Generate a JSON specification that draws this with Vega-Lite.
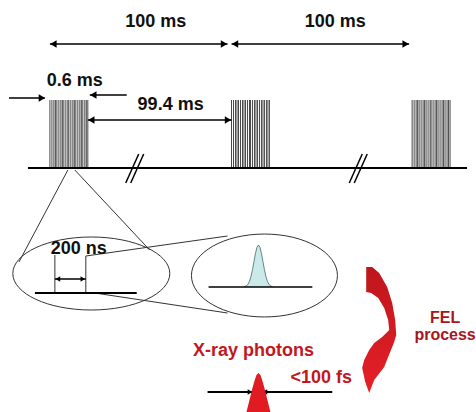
{
  "$schema": "https://vega.github.io/schema/vega-lite/v6.json",
  "width": 476,
  "height": 412,
  "autosize": {"type": "fit", "contains": "padding"},
  "padding": 0,
  "background": "white",
  "config": {"view": {"stroke": null}},
  "datasets": {
    "thin": [
      {"x": 68, "y": 170, "x2": 19, "y2": 262},
      {"x": 75, "y": 170, "x2": 150, "y2": 250},
      {"x": 86, "y": 256, "x2": 228, "y2": 236},
      {"x": 95, "y": 293, "x2": 228, "y2": 313},
      {"x": 55, "y": 255, "x2": 55, "y2": 293},
      {"x": 86, "y": 256, "x2": 86, "y2": 293}
    ],
    "thick": [
      {"x": 28, "y": 168, "x2": 468, "y2": 168},
      {"x": 35, "y": 293, "x2": 137, "y2": 293},
      {"x": 208, "y": 392, "x2": 253, "y2": 392},
      {"x": 263, "y": 392, "x2": 333, "y2": 392}
    ],
    "arrows": [
      {"x": 50, "y": 44, "x2": 228, "y2": 44},
      {"x": 232, "y": 44, "x2": 410, "y2": 44},
      {"x": 9, "y": 98, "x2": 45, "y2": 98},
      {"x": 90, "y": 95, "x2": 127, "y2": 95},
      {"x": 88, "y": 120, "x2": 232, "y2": 120},
      {"x": 55, "y": 279, "x2": 86, "y2": 279}
    ],
    "breaks": [
      {"x": 126, "y": 183, "x2": 139, "y2": 154},
      {"x": 131, "y": 183, "x2": 144, "y2": 154},
      {"x": 350, "y": 183, "x2": 363, "y2": 154},
      {"x": 355, "y": 183, "x2": 368, "y2": 154}
    ],
    "heads": [
      {"x": 53.5, "y": 44, "dir": "left"},
      {"x": 224.5, "y": 44, "dir": "right"},
      {"x": 235.5, "y": 44, "dir": "left"},
      {"x": 406.5, "y": 44, "dir": "right"},
      {"x": 42, "y": 98, "dir": "right"},
      {"x": 93.5, "y": 95, "dir": "left"},
      {"x": 91.5, "y": 120, "dir": "left"},
      {"x": 228.5, "y": 120, "dir": "right"}
    ],
    "smallheads": [
      {"x": 58, "y": 279, "dir": "left"},
      {"x": 83, "y": 279, "dir": "right"},
      {"x": 250.5, "y": 392, "dir": "right"},
      {"x": 265.5, "y": 392, "dir": "left"}
    ],
    "pulses": [
      {"x": 50, "y": 100, "y2": 168}, {"x": 52, "y": 100, "y2": 168}, {"x": 54, "y": 100, "y2": 168}, {"x": 55.5, "y": 100, "y2": 168},
      {"x": 57, "y": 100, "y2": 168}, {"x": 59, "y": 100, "y2": 168}, {"x": 61, "y": 100, "y2": 168}, {"x": 62.5, "y": 100, "y2": 168},
      {"x": 64, "y": 100, "y2": 168}, {"x": 66, "y": 100, "y2": 168}, {"x": 68, "y": 100, "y2": 168}, {"x": 69, "y": 100, "y2": 168},
      {"x": 71, "y": 100, "y2": 168}, {"x": 73, "y": 100, "y2": 168}, {"x": 74.5, "y": 100, "y2": 168}, {"x": 76, "y": 100, "y2": 168},
      {"x": 78, "y": 100, "y2": 168}, {"x": 80, "y": 100, "y2": 168}, {"x": 81.5, "y": 100, "y2": 168}, {"x": 83, "y": 100, "y2": 168},
      {"x": 85, "y": 100, "y2": 168}, {"x": 86.5, "y": 100, "y2": 168}, {"x": 88, "y": 100, "y2": 168},
      {"x": 232, "y": 100, "y2": 168}, {"x": 234, "y": 100, "y2": 168}, {"x": 236, "y": 100, "y2": 168}, {"x": 237.5, "y": 100, "y2": 168},
      {"x": 239, "y": 100, "y2": 168}, {"x": 241, "y": 100, "y2": 168}, {"x": 243, "y": 100, "y2": 168}, {"x": 244.5, "y": 100, "y2": 168},
      {"x": 246, "y": 100, "y2": 168}, {"x": 248, "y": 100, "y2": 168}, {"x": 250, "y": 100, "y2": 168}, {"x": 251, "y": 100, "y2": 168},
      {"x": 253, "y": 100, "y2": 168}, {"x": 255, "y": 100, "y2": 168}, {"x": 256.5, "y": 100, "y2": 168}, {"x": 258, "y": 100, "y2": 168},
      {"x": 260, "y": 100, "y2": 168}, {"x": 262, "y": 100, "y2": 168}, {"x": 263.5, "y": 100, "y2": 168}, {"x": 265, "y": 100, "y2": 168},
      {"x": 267, "y": 100, "y2": 168}, {"x": 268.5, "y": 100, "y2": 168}, {"x": 270, "y": 100, "y2": 168},
      {"x": 413, "y": 100, "y2": 168}, {"x": 415, "y": 100, "y2": 168}, {"x": 417, "y": 100, "y2": 168}, {"x": 418.5, "y": 100, "y2": 168},
      {"x": 420, "y": 100, "y2": 168}, {"x": 422, "y": 100, "y2": 168}, {"x": 424, "y": 100, "y2": 168}, {"x": 425.5, "y": 100, "y2": 168},
      {"x": 427, "y": 100, "y2": 168}, {"x": 429, "y": 100, "y2": 168}, {"x": 431, "y": 100, "y2": 168}, {"x": 432, "y": 100, "y2": 168},
      {"x": 434, "y": 100, "y2": 168}, {"x": 436, "y": 100, "y2": 168}, {"x": 437.5, "y": 100, "y2": 168}, {"x": 439, "y": 100, "y2": 168},
      {"x": 441, "y": 100, "y2": 168}, {"x": 443, "y": 100, "y2": 168}, {"x": 444.5, "y": 100, "y2": 168}, {"x": 446, "y": 100, "y2": 168},
      {"x": 448, "y": 100, "y2": 168}, {"x": 449.5, "y": 100, "y2": 168}, {"x": 451, "y": 100, "y2": 168}
    ],
    "gauss": [
      {"x": 245, "y": 286.7}, {"x": 247, "y": 285.8}, {"x": 248.5, "y": 284.2}, {"x": 250, "y": 281.3},
      {"x": 251.5, "y": 276.5}, {"x": 253, "y": 269.7}, {"x": 254.5, "y": 261.5}, {"x": 256, "y": 253.4},
      {"x": 257.5, "y": 247.3}, {"x": 259, "y": 245}, {"x": 260.5, "y": 247.3}, {"x": 262, "y": 253.4},
      {"x": 263.5, "y": 261.5}, {"x": 265, "y": 269.7}, {"x": 266.5, "y": 276.5}, {"x": 268, "y": 281.3},
      {"x": 269.5, "y": 284.2}, {"x": 271, "y": 285.8}, {"x": 273, "y": 286.7}
    ],
    "spike": [
      {"x": 247, "y": 412}, {"x": 249, "y": 404}, {"x": 251, "y": 396}, {"x": 253, "y": 388},
      {"x": 255, "y": 381}, {"x": 257, "y": 375}, {"x": 259, "y": 373}, {"x": 261, "y": 375},
      {"x": 263, "y": 381}, {"x": 265, "y": 388}, {"x": 267, "y": 396}, {"x": 269, "y": 404}, {"x": 271, "y": 412}
    ],
    "ellipses": [
      {"name": "left", "x": 91.5, "y": 273.5},
      {"name": "right", "x": 265, "y": 275.5}
    ],
    "felarrow": [{"x": 380, "y": 330}],
    "labels": [
      {"text": "100 ms", "x": 156, "y": 27, "grp": "black"},
      {"text": "100 ms", "x": 336, "y": 27, "grp": "black"},
      {"text": "0.6 ms", "x": 75, "y": 86, "grp": "black"},
      {"text": "99.4 ms", "x": 171, "y": 110, "grp": "black"},
      {"text": "200 ns", "x": 79, "y": 254, "grp": "black"},
      {"text": "X-ray photons", "x": 254, "y": 356, "grp": "red"},
      {"text": "<100 fs", "x": 322, "y": 383, "grp": "red"}
    ],
    "fel": [
      {"text": "FEL", "x": 446, "y": 323},
      {"text": "process", "x": 446, "y": 340}
    ]
  },
  "encoding": {
    "x": {"field": "x", "type": "quantitative", "scale": {"domain": [0, 476], "nice": false, "zero": false}, "axis": null},
    "y": {"field": "y", "type": "quantitative", "scale": {"domain": [0, 412], "nice": false, "zero": false, "reverse": true}, "axis": null}
  },
  "layer": [
    {
      "data": {"name": "ellipses"},
      "transform": [{"filter": "datum.name == 'left'"}],
      "mark": {"type": "point", "filled": false, "stroke": "#333", "strokeWidth": 1, "opacity": 1, "size": 24649,
               "shape": "M-1,0A1,0.465,0,0,1,1,0A1,0.465,0,0,1,-1,0Z"},
      "encoding": {}
    },
    {
      "data": {"name": "ellipses"},
      "transform": [{"filter": "datum.name == 'right'"}],
      "mark": {"type": "point", "filled": false, "stroke": "#333", "strokeWidth": 1, "opacity": 1, "size": 21316,
               "shape": "M-1,0A1,0.568,0,0,1,1,0A1,0.568,0,0,1,-1,0Z"},
      "encoding": {}
    },
    {
      "data": {"name": "thin"},
      "mark": {"type": "rule", "stroke": "#333", "strokeWidth": 1},
      "encoding": {"x2": {"field": "x2"}, "y2": {"field": "y2"}}
    },
    {
      "data": {"name": "pulses"},
      "mark": {"type": "rule", "stroke": "#333", "strokeWidth": 0.9},
      "encoding": {"y2": {"field": "y2"}}
    },
    {
      "data": {"name": "gauss"},
      "mark": {"type": "area", "color": "#b5dfe0", "line": {"color": "#3b6b6b", "strokeWidth": 0.8}},
      "encoding": {"y2": {"datum": 287}}
    },
    {
      "data": {"name": "thick"},
      "mark": {"type": "rule", "stroke": "#000", "strokeWidth": 2},
      "encoding": {"x2": {"field": "x2"}, "y2": {"field": "y2"}}
    },
    {
      "data": {"name": "thick"},
      "transform": [{"filter": "datum.y == 293"}],
      "mark": {"type": "rule", "stroke": "#000", "strokeWidth": 1.5},
      "encoding": {"x": {"datum": 209}, "x2": {"datum": 313}, "y": {"datum": 287}}
    },
    {
      "data": {"name": "arrows"},
      "mark": {"type": "rule", "stroke": "#000", "strokeWidth": 1.5},
      "encoding": {"x2": {"field": "x2"}, "y2": {"field": "y2"}}
    },
    {
      "data": {"name": "breaks"},
      "mark": {"type": "rule", "stroke": "#000", "strokeWidth": 1.5},
      "encoding": {"x2": {"field": "x2"}, "y2": {"field": "y2"}}
    },
    {
      "data": {"name": "heads"},
      "mark": {"type": "point", "filled": true, "color": "#000", "opacity": 1, "size": 55},
      "encoding": {
        "shape": {"field": "dir", "type": "nominal", "scale": {"domain": ["left", "right"], "range": ["triangle-left", "triangle-right"]}, "legend": null}
      }
    },
    {
      "data": {"name": "smallheads"},
      "mark": {"type": "point", "filled": true, "color": "#000", "opacity": 1, "size": 28},
      "encoding": {
        "shape": {"field": "dir", "type": "nominal", "scale": {"domain": ["left", "right"], "range": ["triangle-left", "triangle-right"]}, "legend": null}
      }
    },
    {
      "data": {"name": "spike"},
      "mark": {"type": "area", "color": "#e01b22"},
      "encoding": {"y2": {"datum": 412}}
    },
    {
      "data": {"name": "felarrow"},
      "mark": {"type": "point", "filled": true, "opacity": 1, "strokeWidth": 0, "size": 16900,
               "fill": {"gradient": "linear", "x1": 0, "y1": 0, "x2": 0, "y2": 1,
                        "stops": [{"offset": 0, "color": "#bd161c"}, {"offset": 1, "color": "#e62027"}]},
               "shape": "M-0.2,-0.969L-0.108,-0.969L0,-0.877L0.123,-0.662L0.2,-0.415L0.246,-0.154L0.262,0.077L0.231,0.185L0.2,0.262L0.138,0.415L0.077,0.569L-0.077,0.769L-0.154,0.969L-0.215,0.8L-0.262,0.585L-0.231,0.462L-0.154,0.308L-0.077,0.2L0.046,0.108L0.154,0L0.138,-0.154L0.077,-0.338L-0.015,-0.492L-0.123,-0.569L-0.2,-0.585Z"},
      "encoding": {}
    },
    {
      "data": {"name": "labels"},
      "mark": {"type": "text", "font": "Liberation Sans", "fontWeight": "bold", "fontSize": 18, "align": "center", "baseline": "alphabetic"},
      "encoding": {
        "text": {"field": "text"},
        "color": {"field": "grp", "type": "nominal", "scale": {"domain": ["black", "red"], "range": ["#111111", "#c3161d"]}, "legend": null}
      }
    },
    {
      "data": {"name": "fel"},
      "mark": {"type": "text", "font": "Liberation Sans", "fontWeight": "bold", "fontSize": 16, "align": "center", "baseline": "alphabetic", "color": "#a8161c"},
      "encoding": {"text": {"field": "text"}}
    }
  ]
}
